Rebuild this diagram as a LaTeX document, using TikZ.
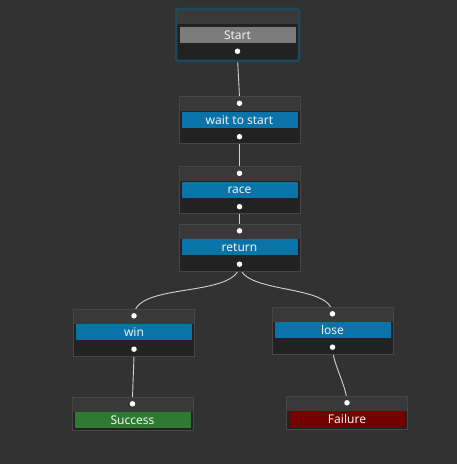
\documentclass[tikz,border=0pt]{standalone}
\usepackage{fontspec}
\setmainfont{Noto Sans}
\usetikzlibrary{positioning}

\definecolor{canvas}{HTML}{323232}
\definecolor{nodehigh}{HTML}{393939}
\definecolor{nodelow}{HTML}{222222}
\definecolor{frameline}{HTML}{474747}
\definecolor{startglow}{HTML}{1D4A5C}
\definecolor{greybar}{HTML}{7B7B7B}
\definecolor{bluebar}{HTML}{0A74A8}
\definecolor{greenbar}{HTML}{2E7A32}
\definecolor{redbar}{HTML}{740000}
\definecolor{linkcol}{HTML}{D2D2D2}

\pgfdeclarelayer{canvaslayer}
\pgfdeclarelayer{linklayer}
\pgfsetlayers{canvaslayer,linklayer,main}

\begin{document}
\begin{tikzpicture}[x=1pt, y=1pt,
		frame/.style = {rectangle, draw=frameline, fill=nodelow, minimum width=121, minimum height=47, inner sep=0,
			path picture={\fill[nodehigh] ([yshift=-15]path picture bounding box.north west) rectangle (path picture bounding box.north east);}},
		bar/.style = {rectangle, minimum width=116, minimum height=16, inner sep=0, text=white!95!black, font=\fontsize{12}{13}\selectfont},
		dot/.style = {circle, fill=white, inner sep=0, minimum size=5.5},
		link/.style = {draw=linkcol, line width=0.9, looseness=0.75}
		]
		
		%Canvas
		\begin{pgfonlayer}{canvaslayer}
			\fill[canvas] (0,0) rectangle (457,464);
		\end{pgfonlayer}
		
		%Frames
		\node[frame, draw=startglow, line width=2.5, rounded corners=2.5, minimum width=123, minimum height=52]	(start)	at	(237.5, 429)	{};
		\node[frame]	(wait)	at	(239.5, 344)	{};
		\node[frame]	(race)	at	(239.5, 274)	{};
		\node[frame]	(ret)	at	(239.5, 216.5)	{};
		\node[frame]	(win)	at	(134, 131.5)	{};
		\node[frame]	(lose)	at	(332.5, 133.5)	{};
		\node[frame, minimum height=33]	(success)	at	(132.5, 50.5)	{};
		\node[frame, minimum height=33]	(failure)	at	(347, 51.5)	{};
		
		%Bars
		\node[bar, fill=greybar]	(start-label)	at	(start.center)	{Start};
		\node[bar, fill=bluebar]	(wait-label)	at	(wait.center)	{wait to start};
		\node[bar, fill=bluebar]	(race-label)	at	(race.center)	{race};
		\node[bar, fill=bluebar]	(ret-label)	at	(ret.center)	{return};
		\node[bar, fill=bluebar]	(win-label)	at	(win.center)	{win};
		\node[bar, fill=bluebar]	(lose-label)	at	(lose.center)	{lose};
		\node[bar, fill=greenbar]	(success-label)	at	([yshift=10]success.south)	{Success};
		\node[bar, fill=redbar]	(failure-label)	at	([yshift=10]failure.south)	{Failure};
		
		%Ports
		\node[dot]	(start-out)	at	([yshift=11]start.south)	{};
		\node[dot]	(wait-in)	at	([yshift=-7]wait.north)	{};
		\node[dot]	(wait-out)	at	([yshift=7]wait.south)	{};
		\node[dot]	(race-in)	at	([yshift=-7]race.north)	{};
		\node[dot]	(race-out)	at	([yshift=7]race.south)	{};
		\node[dot]	(ret-in)	at	([yshift=-7]ret.north)	{};
		\node[dot]	(ret-out)	at	([yshift=7]ret.south)	{};
		\node[dot]	(win-in)	at	([yshift=-7]win.north)	{};
		\node[dot]	(win-out)	at	([yshift=7]win.south)	{};
		\node[dot]	(lose-in)	at	([yshift=-7]lose.north)	{};
		\node[dot]	(lose-out)	at	([yshift=7]lose.south)	{};
		\node[dot]	(success-in)	at	([yshift=-7]success.north)	{};
		\node[dot]	(failure-in)	at	([yshift=-7]failure.north)	{};
		
		%Links
		\begin{pgfonlayer}{linklayer}
			\draw[link]	(start-out.center)	to[out=-90, in=90]	(wait-in.center);
			\draw[link]	(wait-out.center)	to[out=-90, in=90]	(race-in.center);
			\draw[link]	(race-out.center)	to[out=-90, in=90]	(ret-in.center);
			\draw[link]	(ret-out.center)	to[out=-90, in=90]	(win-in.center);
			\draw[link]	(ret-out.center)	to[out=-90, in=90]	(lose-in.center);
			\draw[link]	(win-out.center)	to[out=-90, in=90]	(success-in.center);
			\draw[link]	(lose-out.center)	to[out=-90, in=90]	(failure-in.center);
		\end{pgfonlayer}
	\end{tikzpicture}
\end{document}
